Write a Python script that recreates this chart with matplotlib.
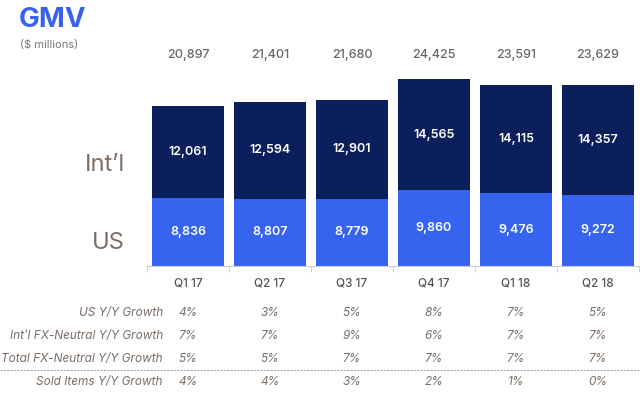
import numpy as np
import matplotlib.pyplot as plt

quarters = ["Q1 17", "Q2 17", "Q3 17", "Q4 17", "Q1 18", "Q2 18"]
us = [8836, 8807, 8779, 9860, 9476, 9272]
intl = [12061, 12594, 12901, 14565, 14115, 14357]
totals = [20897, 21401, 21680, 24425, 23591, 23629]

row_labels = ["US Y/Y Growth", "Int\u2019l FX-Neutral Y/Y Growth",
              "Total FX-Neutral Y/Y Growth", "Sold Items Y/Y Growth"]
rows = [
    ["4%", "3%", "5%", "8%", "7%", "5%"],
    ["7%", "7%", "9%", "6%", "7%", "7%"],
    ["5%", "5%", "7%", "7%", "7%", "7%"],
    ["4%", "4%", "3%", "2%", "1%", "0%"],
]

plt.rcParams['font.family'] = ['Inter', 'DejaVu Sans']
navy = "#0b1f5c"
blue = "#3664ee"
label_col = "#7a6e66"

W, H = 640, 397
fig = plt.figure(figsize=(6.4, 3.97), dpi=100)
ax = fig.add_axes([147 / W, 1 - 266 / H, 492 / W, 266 / H])

x = np.arange(len(quarters))
ax.bar(x, us, width=0.866, color=blue)
ax.bar(x, intl, bottom=us, width=0.866, color=navy)

for i in range(len(quarters)):
    ax.text(x[i], us[i] / 2, f"{us[i]:,}", ha="center", va="center",
            color="white", fontsize=9, fontweight="semibold")
    ax.text(x[i], us[i] + intl[i] / 2, f"{intl[i]:,}", ha="center", va="center",
            color="white", fontsize=9, fontweight="semibold")
    # totals sit on a fixed row near the top
    ax.text(x[i], 27500, f"{totals[i]:,}", ha="center", va="center",
            color="#666666", fontsize=9, fontweight="medium")

ax.set_xlim(-0.5, 5.5)
ax.set_ylim(0, 266 / 0.00766)
for s in ["top", "left", "right"]:
    ax.spines[s].set_visible(False)
ax.spines["bottom"].set_color("#cccccc")
ax.set_yticks([])
ax.set_xticks(x)
ax.set_xticklabels(quarters, fontsize=8.5, color="#555555", fontweight="medium")
ax.tick_params(axis="x", which="major", length=0, pad=8)
ax.set_xticks(np.arange(-0.5, 5.6, 1), minor=True)
ax.tick_params(axis="x", which="minor", length=4, color="#cccccc")

fig.text(19 / W, 1 - 20 / H, "GMV", color="#3a62e8", fontsize=20,
         fontweight="bold", va="center")
fig.text(20 / W, 1 - 45 / H, "($ millions)", color="#777777", fontsize=8,
         va="center")
fig.text(125 / W, 1 - 165 / H, "Int\u2019l", color=label_col, fontsize=17,
         ha="right", va="center")
fig.text(125 / W, 1 - 243 / H, "US", color=label_col, fontsize=17,
         ha="right", va="center")

# growth table under the bars, values lined up with the bar centres
row_y = [313, 336, 359, 382]
for r, lab in enumerate(row_labels):
    yy = 1 - row_y[r] / H
    fig.text(163 / W, yy, lab, ha="right", va="center", style="italic",
             fontsize=8.5, color=label_col)
    for c, v in enumerate(rows[r]):
        xf = fig.transFigure.inverted().transform(ax.transData.transform((x[c], 0)))[0]
        fig.text(xf, yy, v, ha="center", va="center", style="italic",
                 fontsize=8.5, color=label_col)

fig.add_artist(plt.Line2D([0, 1], [1 - 370 / H, 1 - 370 / H], color="#aaaaaa",
                          lw=0.8, ls=(0, (2, 1)), transform=fig.transFigure))

fig.savefig("out.png", dpi=100)
